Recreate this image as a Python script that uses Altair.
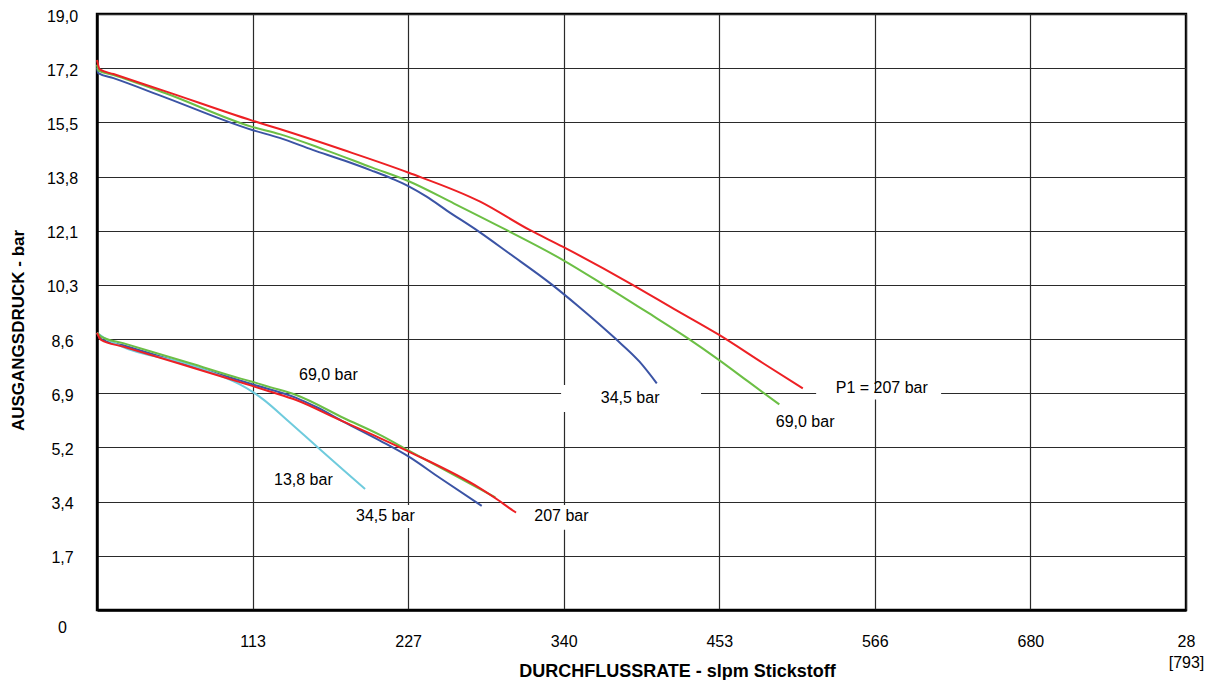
import altair as alt
import pandas as pd

# ---------------- data (x = slpm nitrogen, y = outlet pressure bar) ----------------
# Upper family (P2 ~ 17 bar)
hi_345_x = [0, 1, 12, 50, 113, 133, 157, 180, 200, 215, 227, 240, 255, 277, 300, 331, 350, 377, 395, 407.6]
hi_345_y = [17.25, 17.08, 16.92, 16.3, 15.27, 15.02, 14.64, 14.3, 13.98, 13.72, 13.48, 13.15, 12.7, 12.07, 11.35, 10.36, 9.68, 8.65, 7.9, 7.21]

hi_690_x = [0, 1, 12, 50, 113, 133, 166, 200, 227, 260, 298, 339, 368, 400, 430, 453, 475, 496.8]
hi_690_y = [17.35, 17.16, 17.02, 16.44, 15.37, 15.14, 14.64, 14.08, 13.64, 12.93, 12.09, 11.14, 10.37, 9.49, 8.65, 7.95, 7.24, 6.54]

hi_207_x = [0, 2, 12, 50, 113, 133, 179, 227, 279, 315, 339, 389, 420, 453, 485, 513.9]
hi_207_y = [17.5, 17.2, 17.05, 16.5, 15.57, 15.30, 14.64, 13.91, 12.99, 12.09, 11.56, 10.37, 9.58, 8.75, 7.85, 7.05]

# Lower family (P2 ~ 8.6 bar)
lo_138_x = [0, 3, 16, 68, 90, 104, 113, 121, 140, 160, 180, 195.2]
lo_138_y = [8.82, 8.72, 8.42, 7.80, 7.45, 7.18, 6.95, 6.70, 5.98, 5.20, 4.43, 3.85]

lo_345_x = [0, 3, 19, 68, 113, 145, 160, 180, 206, 227, 250, 280.1]
lo_345_y = [8.82, 8.62, 8.42, 7.78, 7.18, 6.75, 6.45, 5.98, 5.39, 4.88, 4.19, 3.31]

lo_690_x = [0, 3, 19, 68, 104, 113, 126, 145, 180, 206, 227, 250, 290]
lo_690_y = [8.82, 8.70, 8.49, 7.85, 7.37, 7.26, 7.09, 6.84, 6.10, 5.57, 5.07, 4.53, 3.58]

lo_207_x = [0, 3, 19, 68, 104, 113, 126, 145, 175, 206, 227, 279, 292, 300, 305.1]
lo_207_y = [8.82, 8.59, 8.38, 7.73, 7.25, 7.13, 6.95, 6.68, 6.08, 5.47, 5.04, 3.87, 3.50, 3.25, 3.10]

# annotations
ann_text = ["69,0 bar", "13,8 bar", "34,5 bar", "207 bar", "34,5 bar", "69,0 bar", "P1 = 207 bar"]
ann_x = [147.1, 128.9, 188.6, 318.4, 366.8, 494.2, 537.9]
ann_y = [7.48, 4.14, 2.99, 2.99, 6.73, 5.99, 7.07]

# white boxes behind some labels (hide grid lines)
box_x0 = [337.9, 523.6, 184.2, 315.3]
box_x1 = [439.8, 614.6, 235.2, 366.3]
box_y0 = [6.30, 6.70, 2.61, 2.55]
box_y1 = [7.16, 6.98, 3.34, 3.34]

# axes
x_tick_vals = [0, 113.3, 226.5, 339.8, 453.1, 566.3, 679.6, 792.9]
x_tick_labels = ["", "113", "227", "340", "453", "566", "680", "28\n[793]"]
y_tick_vals = [0, 1.724, 3.447, 5.171, 6.895, 8.618, 10.342, 12.066, 13.790, 15.513, 17.237, 18.961]
y_tick_labels = ["", "1,7", "3,4", "5,2", "6,9", "8,6", "10,3", "12,1", "13,8", "15,5", "17,2", "19,0"]

colors = {"blue": "#3b54a5", "cyan": "#6fcbdd", "green": "#6cbf45", "red": "#ed2024"}

curves = [
    ("hi_345", "blue", hi_345_x, hi_345_y),
    ("lo_345", "blue", lo_345_x, lo_345_y),
    ("lo_138", "cyan", lo_138_x, lo_138_y),
    ("hi_690", "green", hi_690_x, hi_690_y),
    ("lo_690", "green", lo_690_x, lo_690_y),
    ("hi_207", "red", hi_207_x, hi_207_y),
    ("lo_207", "red", lo_207_x, lo_207_y),
]

rows = []
for cid, col, xs, ys in curves:
    for i, (a, b) in enumerate(zip(xs, ys)):
        rows.append({"curve": cid, "col": col, "x": a, "y": b, "i": i})
df = pd.DataFrame(rows)

ann_df = pd.DataFrame({"t": ann_text, "x": ann_x, "y": ann_y})
box_df = pd.DataFrame({"x": box_x0, "x2": box_x1, "y": box_y0, "y2": box_y1})
zero_df = pd.DataFrame({"x": [0], "y": [0], "t": ["0"]})


def label_expr(vals, labels):
    expr = "''"
    for v, l in reversed(list(zip(vals, labels))):
        if "\n" in l:
            lab = "[" + ",".join("'" + p + "'" for p in l.split("\n")) + "]"
        else:
            lab = "'" + l + "'"
        expr = f"abs(datum.value - {v}) < 0.05 ? {lab} : ({expr})"
    return expr


FONT = "Liberation Sans"
GRID = "#2a2a2a"

x_scale = alt.Scale(domain=[0, 792.9], nice=False, zero=False)
y_scale = alt.Scale(domain=[0, 18.961], nice=False, zero=False)

x_axis = alt.Axis(
    values=x_tick_vals, labelExpr=label_expr(x_tick_vals, x_tick_labels),
    grid=True, gridColor=GRID, gridWidth=1.2, gridOpacity=1,
    domainColor="black", domainWidth=2.4,
    ticks=False, tickSize=0, labelPadding=23, labelFlush=False,
    labelOverlap=False, labelFont=FONT, labelFontSize=16, labelColor="black",
    labelAlign="center", labelBaseline="top", labelLineHeight=21,
    title="DURCHFLUSSRATE - slpm Stickstoff", titleFont=FONT, titleFontSize=18,
    titleFontWeight="bold", titleColor="black", titleX=580, titleY=66,
    titleBaseline="alphabetic", titleAlign="center",
)
y_axis = alt.Axis(
    values=y_tick_vals, labelExpr=label_expr(y_tick_vals, y_tick_labels),
    grid=True, gridColor=GRID, gridWidth=1.2, gridOpacity=1,
    domainColor="black", domainWidth=2.4,
    ticks=False, tickSize=0, labelPadding=35, labelFlush=False,
    labelOverlap=False, labelFont=FONT, labelFontSize=16, labelColor="black",
    labelAlign="center", labelBaseline="middle", labelOffset=2,
    title="AUSGANGSDRUCK - bar", titleFont=FONT, titleFontSize=17,
    titleFontWeight="bold", titleColor="black", titleX=-79, titleY=316,
    titleAngle=270, titleBaseline="middle", titleAlign="center",
)

X = alt.X("x:Q", scale=x_scale, axis=x_axis)
Y = alt.Y("y:Q", scale=y_scale, axis=y_axis)

boxes = alt.Chart(box_df).mark_rect(color="white").encode(
    x=X, x2="x2:Q", y=Y, y2="y2:Q"
)

layers = [boxes]
for col in ["blue", "cyan", "green", "red"]:
    layers.append(
        alt.Chart(df).transform_filter(alt.datum.col == col)
        .mark_line(color=colors[col], strokeWidth=2, interpolate="monotone")
        .encode(x=X, y=Y, detail="curve:N", order="i:Q")
    )

texts = alt.Chart(ann_df).mark_text(
    align="left", baseline="middle", font=FONT, fontSize=16, color="black"
).encode(x=X, y=Y, text="t:N")

zero_lbl = alt.Chart(zero_df).mark_text(
    align="center", baseline="middle", font=FONT, fontSize=16, color="black", dx=-34.5, dy=18
).encode(x=X, y=Y, text="t:N")

layers += [texts, zero_lbl]

chart = alt.layer(*layers).properties(
    width=1089, height=596,
    background="white",
    autosize=alt.AutoSizeParams(type="none"),
    padding={"left": 89, "top": 6, "right": 22, "bottom": 70},
).configure_view(
    stroke="black", strokeWidth=2.4
)

chart.save("out.html", embed_options={"renderer": "svg", "actions": False})
